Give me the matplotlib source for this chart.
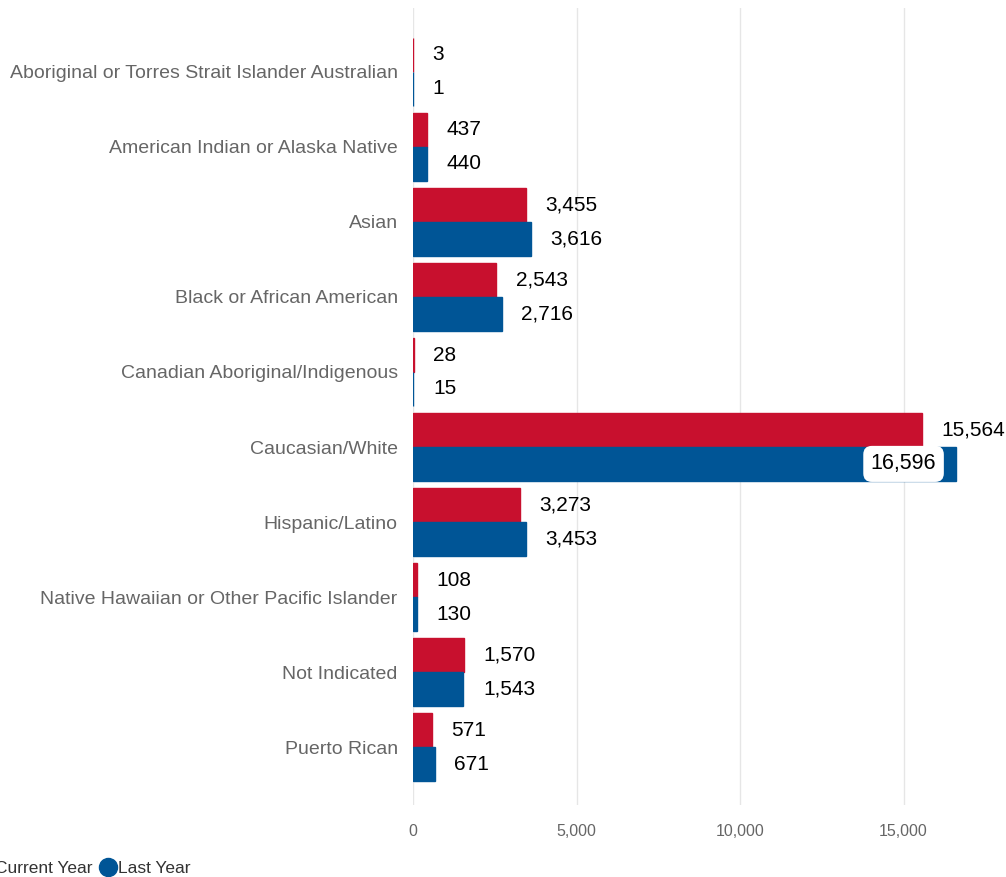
import matplotlib.pyplot as plt
import numpy as np
from matplotlib.lines import Line2D

plt.rcParams['font.family'] = ['Liberation Sans', 'DejaVu Sans']

categories = ['Aboriginal or Torres Strait Islander Australian',
              'American Indian or Alaska Native',
              'Asian',
              'Black or African American',
              'Canadian Aboriginal/Indigenous',
              'Caucasian/White',
              'Hispanic/Latino',
              'Native Hawaiian or Other Pacific Islander',
              'Not Indicated',
              'Puerto Rican']
current_year = [3, 437, 3455, 2543, 28, 15564, 3273, 108, 1570, 571]
last_year = [1, 440, 3616, 2716, 15, 16596, 3453, 130, 1543, 671]
xticks = [0, 5000, 10000, 15000]

red = '#C8102E'
blue = '#005596'

fig = plt.figure(figsize=(10.06, 8.77), dpi=100)
ax = fig.add_axes([413/1006, 72/877, 589/1006, 797/877])

y = np.arange(len(categories))
h = 0.45
# thin edge so the tiny values still show as a sliver
ax.barh(y - h/2, current_year, height=h, color=red, edgecolor=red, linewidth=1)
ax.barh(y + h/2, last_year, height=h, color=blue, edgecolor=blue, linewidth=1)

xmax = 18010
ax.set_xlim(0, xmax)
ax.set_ylim(len(categories) - 1 + 0.77, -0.85)

for i in range(len(categories)):
    ax.annotate(f'{current_year[i]:,}', (current_year[i], y[i] - h/2),
                xytext=(14, 0), textcoords='offset points', ha='left',
                va='center', fontsize=15, color='black', annotation_clip=False)
    if last_year[i] > 15000:
        ax.annotate(f'{last_year[i]:,}', (last_year[i], y[i] + h/2),
                    xytext=(-14, 0), textcoords='offset points', ha='right',
                    va='center', fontsize=15.5, color='black',
                    bbox=dict(boxstyle='round,pad=0.35,rounding_size=0.4',
                              fc='white', ec='none'))
    else:
        ax.annotate(f'{last_year[i]:,}', (last_year[i], y[i] + h/2),
                    xytext=(14, 0), textcoords='offset points', ha='left',
                    va='center', fontsize=15, color='black', annotation_clip=False)

ax.set_yticks(y)
ax.set_yticklabels(categories, fontsize=14, color='#666666')
ax.set_xticks(xticks)
ax.set_xticklabels([f'{t:,}' for t in xticks], fontsize=11.5, color='#666666')
ax.tick_params(axis='y', length=0, pad=11)
ax.tick_params(axis='x', length=0, pad=14)
ax.grid(axis='x', color='#e6e6e6', linewidth=1)
ax.set_axisbelow(True)
for s in ax.spines.values():
    s.set_visible(False)

handles = [Line2D([], [], marker='o', color='none', markerfacecolor=red,
                  markeredgecolor=red, markersize=13),
           Line2D([], [], marker='o', color='none', markerfacecolor=blue,
                  markeredgecolor=blue, markersize=13)]
fig.legend(handles, ['Current Year', 'Last Year'], loc='center left',
           bbox_to_anchor=(-0.037, 0.01), ncol=2, frameon=False,
           fontsize=12.5, handlelength=0.8, handletextpad=0.15,
           columnspacing=0.5, labelcolor='#333333')

fig.savefig('out.png', dpi=100)
